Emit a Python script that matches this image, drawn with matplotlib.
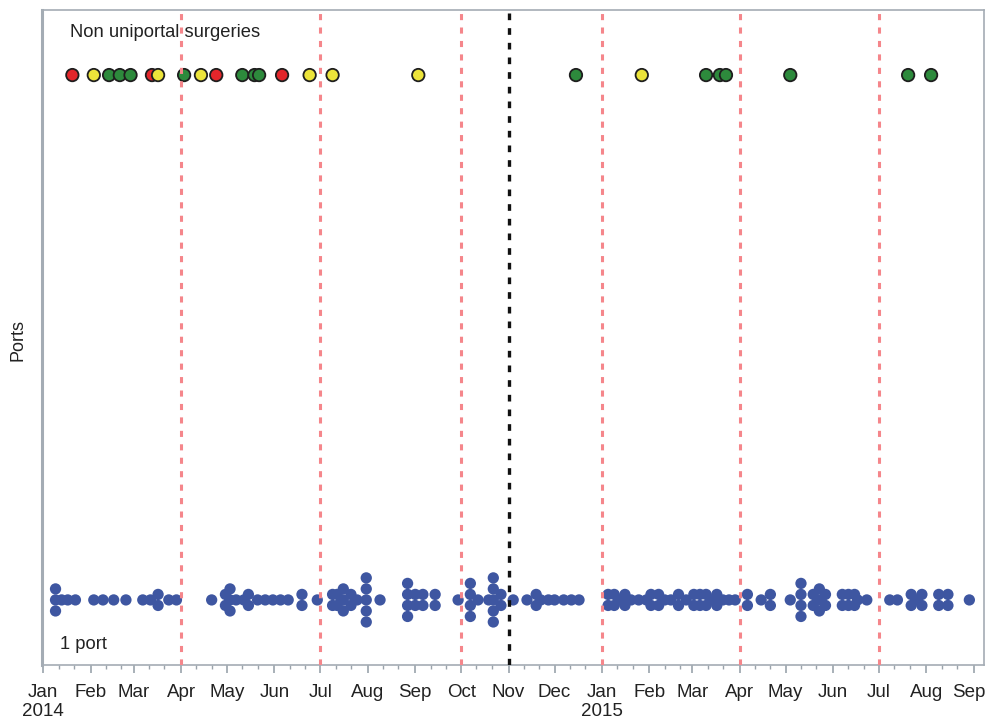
import numpy as np
import pandas as pd
import matplotlib
matplotlib.use('Agg')
import matplotlib.pyplot as plt
import matplotlib.dates as mdates
import matplotlib.transforms as mtrans

plt.rcParams['font.family'] = ['Liberation Sans', 'DejaVu Sans']

# non uniportal surgeries (top row), colour = category shown in the chart
top_dates = ['2014-01-20', '2014-02-03', '2014-02-13', '2014-02-20', '2014-02-27',
             '2014-03-13', '2014-03-17', '2014-04-03', '2014-04-14', '2014-04-24',
             '2014-05-11', '2014-05-19', '2014-05-22', '2014-06-06', '2014-06-24',
             '2014-07-09', '2014-09-03', '2014-12-15', '2015-01-27', '2015-03-10',
             '2015-03-19', '2015-03-23', '2015-05-04', '2015-07-20', '2015-08-04']
top_kind = ['red', 'yellow', 'green', 'green', 'green',
            'red', 'yellow', 'green', 'yellow', 'red',
            'green', 'green', 'green', 'red', 'yellow',
            'yellow', 'yellow', 'green', 'yellow', 'green',
            'green', 'green', 'green', 'green', 'green']

# uniportal surgeries (1 port), days after 2014-01-01, repeats = same day
one_port_days = [8, 8, 8, 12, 16, 21, 33, 39, 46, 54, 65, 70, 75, 75, 82, 87,
                 110, 119, 119, 122, 122, 122, 126, 131, 134, 134, 140, 145, 150, 155, 160,
                 169, 169, 179,
                 189, 189, 192, 192, 196, 196, 196, 201, 201, 205, 211, 211, 211, 211, 211,
                 220, 238, 238, 238, 238, 243, 243, 248, 248, 256, 256,
                 271, 279, 279, 279, 279, 284, 291, 294, 294, 294, 294, 294, 299, 299,
                 307, 316, 322, 322, 325, 330,
                 334, 340, 345, 350,
                 369, 369, 373, 373, 376, 380, 380, 384, 389, 394, 397, 397, 402, 402,
                 406, 410, 415, 415, 420, 425, 425, 429, 429, 433, 433, 436, 440, 440,
                 444, 448, 452,
                 460, 460, 469, 475, 475, 488, 495, 495, 495, 495, 503, 503, 507, 507, 507,
                 511, 511, 522, 522, 526, 526, 530, 530, 532, 538,
                 553, 558, 567, 567, 571, 574, 574, 585, 585, 591, 591, 605]

quarter_lines = ['2014-04-01', '2014-07-01', '2014-10-01', '2015-01-01', '2015-04-01', '2015-07-01']
change_line = '2014-11-01'

colours = {'red': '#e3262b', 'yellow': '#ece43a', 'green': '#2d8a3c'}

# stack points of the same day vertically
step = 0.021
days = pd.Series(one_port_days)
offsets = np.zeros(len(days))
for d, idx in days.groupby(days).groups.items():
    n = len(idx)
    offsets[list(idx)] = (np.arange(n) - (n - 1) / 2) * step
one_port_x = pd.Timestamp('2014-01-01') + pd.to_timedelta(days, unit='D')

fig = plt.figure(figsize=(9.86, 7.23), dpi=100)
ax = fig.add_axes([0.0426, 0.0802, 0.9554, 0.906])

ax.scatter(one_port_x, offsets, s=66, color='#3e56a1', edgecolors='none', zorder=2)

top_x = pd.to_datetime(top_dates)
ax.scatter(top_x, np.ones(len(top_x)), s=80, c=[colours[k] for k in top_kind],
           edgecolors='#1e1e1e', linewidths=1.3, zorder=3)

for d in quarter_lines:
    ax.axvline(pd.Timestamp(d), color='#f5868b', lw=2.2, dashes=(2.0, 2.4), zorder=4)
ax.axvline(pd.Timestamp(change_line), color='#111111', lw=2.4, dashes=(2.0, 2.4), zorder=4)

ax.set_xlim(pd.Timestamp('2013-12-31 04:00'), pd.Timestamp('2015-09-07 14:00'))
ax.set_ylim(-0.124, 1.124)

ax.xaxis.set_major_locator(mdates.MonthLocator())
ax.xaxis.set_minor_locator(mdates.DayLocator(bymonthday=[11, 21]))

def fmt(x, pos=None):
    d = mdates.num2date(x)
    s = d.strftime('%b')
    if d.month == 1:
        s += '\n' + str(d.year)
    return s

ax.xaxis.set_major_formatter(plt.FuncFormatter(fmt))
ax.set_yticks([])
ax.tick_params(axis='x', which='major', length=6, width=1.2, color='#9aa3ab',
               labelsize=13.5, pad=8, labelcolor='#222222')
ax.tick_params(axis='x', which='minor', length=3, width=1, color='#9aa3ab')

for sp in ax.spines.values():
    sp.set_color('#a4acb4')
    sp.set_linewidth(1.2)
ax.spines['left'].set_linewidth(2.2)

ax.text(0.0297, 0.965, 'Non uniportal surgeries', transform=ax.transAxes,
        fontsize=13.2, va='center', ha='left', color='#222222')
ax.text(0.019, 0.032, '1 port', transform=ax.transAxes,
        fontsize=13.2, va='center', ha='left', color='#222222')
fig.text(0.018, 0.53, 'Ports', rotation=90, fontsize=13, va='center', ha='center',
         color='#222222')

# keep the last month label inside the figure, spacing of year lines
fig.canvas.draw()
for lab in ax.get_xticklabels():
    lab.set_linespacing(1.15)
last = ax.get_xticklabels()[-1]
last.set_transform(last.get_transform() + mtrans.ScaledTranslation(-4 / 72, 0, fig.dpi_scale_trans))

fig.savefig('out.png', dpi=100)
